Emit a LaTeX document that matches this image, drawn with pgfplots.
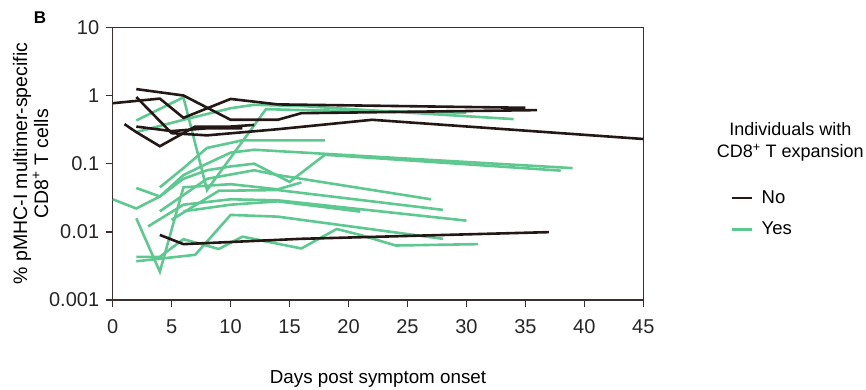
\documentclass[border=0pt]{standalone}
\usepackage{pgfplots}
\pgfplotsset{compat=1.18}
\usepackage{fontspec}
\setmainfont{Liberation Sans}
\definecolor{nocol}{HTML}{231815}
\definecolor{yescol}{HTML}{5DC88F}
\definecolor{axcol}{HTML}{3B2F2F}
\begin{document}
\fontsize{19}{22}\selectfont
\begin{tikzpicture}
\path[use as bounding box] (0,0) rectangle (866pt,389pt);
\begin{axis}[
  at={(112.7pt,89pt)}, anchor=south west,
  scale only axis, width=530.6pt, height=272.7pt,
  xmin=0, xmax=45, ymin=0.001, ymax=10, ymode=log,
  xtick={0,5,...,45},
  ytick={0.001,0.01,0.1,1,10}, yticklabels={0.001,0.01,0.1,1,10},
  yminorticks=false,
  tick align=outside, tick pos=left, major tick length=7pt,
  axis line style={axcol, line width=1.4pt},
  every tick/.style={axcol, line width=1.4pt},
  tick label style={font=\fontsize{20}{23}\selectfont, text=black!85},
  /pgf/number format/assume math mode=true,
  xticklabel style={yshift=-6pt},
  xlabel={Days post symptom onset},
  xlabel style={at={(axis description cs:0.5,-0.29)}, anchor=center, font=\fontsize{18.8}{22}\selectfont},
  ylabel={\% pMHC-I multimer-specific\\CD8\textsuperscript{+} T cells},
  ylabel style={at={(axis description cs:-0.1545,0.5)}, anchor=center, align=center, font=\fontsize{19.5}{21}\selectfont},
  no markers,
  clip mode=individual,
  legend style={at={(axis description cs:1.165,0.41)}, anchor=north west, draw=none, fill=none,
    inner sep=0pt, row sep=12pt, font=\fontsize{18.5}{22}\selectfont,
    nodes={inner sep=2pt}},
  legend cell align=left,
  legend image code/.code={\draw[#1] (0pt,0pt) -- (20pt,0pt);},
]
% Yes (green)
\addplot[yescol, line width=2.6pt, forget plot] coordinates {(2,0.43) (6,0.94) (8,0.041) (13,0.63) (16,0.61) (30,0.56)};
\addplot[yescol, line width=2.6pt, forget plot] coordinates {(2,0.29) (6,0.44) (10,0.65) (12,0.73) (16,0.70) (34,0.45)};
\addplot[yescol, line width=2.6pt, forget plot] coordinates {(4,0.045) (6,0.086) (8,0.17) (11,0.22) (18,0.22)};
\addplot[yescol, line width=2.6pt, forget plot] coordinates {(0,0.030) (2,0.022) (4,0.033) (6,0.068) (8,0.10) (10,0.145) (12,0.16) (39,0.086)};
\addplot[yescol, line width=2.6pt, forget plot] coordinates {(2,0.044) (4,0.033) (6,0.06) (8,0.08) (10,0.091) (12,0.10) (15,0.054) (18,0.135) (38,0.079)};
\addplot[yescol, line width=2.6pt, forget plot] coordinates {(2,0.0158) (4,0.0026) (6,0.045) (10,0.05) (14,0.042) (16,0.053)};
\addplot[yescol, line width=2.6pt, forget plot] coordinates {(3,0.012) (6,0.025) (10,0.03) (14,0.029) (30,0.0146)};
\addplot[yescol, line width=2.6pt, forget plot] coordinates {(4,0.02) (8,0.06) (12,0.08) (14,0.068) (27,0.030)};
\addplot[yescol, line width=2.6pt, forget plot] coordinates {(5,0.015) (9,0.04) (14,0.041) (28,0.021)};
\addplot[yescol, line width=2.6pt, forget plot] coordinates {(6,0.02) (10,0.025) (14,0.028) (21,0.0198)};
\addplot[yescol, line width=2.6pt, forget plot] coordinates {(2,0.0037) (7,0.0046) (10,0.0177) (14,0.0167) (28,0.0079)};
\addplot[yescol, line width=2.6pt, forget plot] coordinates {(2,0.0043) (4,0.0043) (6,0.0078) (9,0.0056) (11,0.0085) (16,0.0057) (19,0.011) (21,0.009) (24,0.0063) (31,0.0066)};
% No (black)
\addplot[nocol, line width=2.6pt, forget plot] coordinates {(0,0.77) (4,0.90) (6,0.47) (10,0.89) (14,0.74) (35,0.66)};
\addplot[nocol, line width=2.6pt, forget plot] coordinates {(2,1.24) (6,1.0) (10,0.44) (14,0.44) (16,0.55) (36,0.61)};
\addplot[nocol, line width=2.6pt, forget plot] coordinates {(2,0.95) (5,0.28) (8,0.26) (14,0.32) (22,0.44) (45,0.23)};
\addplot[nocol, line width=2.6pt, forget plot] coordinates {(1,0.38) (2,0.29) (4,0.18) (7,0.35) (10,0.35) (12,0.37)};
\addplot[nocol, line width=2.6pt, forget plot] coordinates {(2,0.35) (5,0.30) (8,0.33) (11,0.33)};
\addplot[nocol, line width=2.6pt, forget plot] coordinates {(4,0.009) (6,0.0066) (16,0.0079) (37,0.0099)};
\addlegendimage{nocol, line width=2.6pt}
\addlegendentry{\hspace{6pt}No}
\addlegendimage{yescol, line width=2.6pt}
\addlegendentry{\hspace{6pt}Yes}
\node[align=center, font=\fontsize{18}{22}\selectfont] at (axis description cs:1.277,0.579) {Individuals with\\CD8\textsuperscript{+} T expansion};
\node[font=\fontsize{17}{18}\selectfont\bfseries] at (axis description cs:-0.137,1.034) {B};
\end{axis}
\end{tikzpicture}
\end{document}
